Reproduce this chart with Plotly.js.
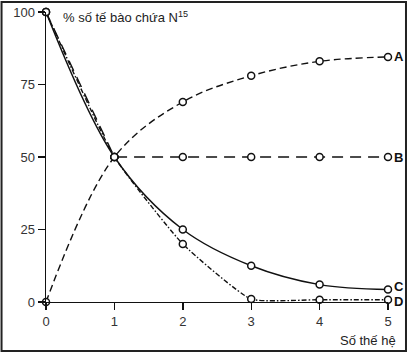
<!DOCTYPE html>
<html><head><meta charset="utf-8">
<script src="https://cdn.plot.ly/plotly-3.0.1.min.js"></script>
<style>html,body{margin:0;padding:0;background:#fff}</style>
</head><body><div id="chart" style="width:414px;height:354px"></div>
<script>
const generations = [0, 1, 2, 3, 4, 5];
const seriesA = [0, 50, 69, 78, 83, 84.5];
const seriesB = [100, 50, 50, 50, 50, 50];
const seriesC = [100, 50, 25, 12.5, 6, 4.3];
const seriesD = [100, 50, 20, 1, 0.8, 0.8];
const seriesNames = ['A', 'B', 'C', 'D'];
const yTicks = [0, 25, 50, 75, 100];
const xTicks = [0, 1, 2, 3, 4, 5];
const yTitle = '% số tế bào chứa N<sup>15</sup>';
const xTitle = 'Số thế hệ';

const ink = '#111';
const marker = {symbol: 'circle', size: 7, color: '#fff', line: {color: ink, width: 1.5}};

function tr(y, dash, shape, smoothing) {
  return {
    x: generations, y: y, type: 'scatter', mode: 'lines+markers',
    line: {color: ink, width: 1.4, dash: dash, shape: shape, smoothing: smoothing},
    marker: marker, cliponaxis: false, hoverinfo: 'skip', showlegend: false
  };
}

const data = [
  tr(seriesA, '7px,4px', 'spline', 1),
  tr(seriesB, '11px,7px', 'linear', 0),
  tr(seriesC, 'solid', 'spline', 1),
  tr(seriesD, '5px,2px,1.5px,2px', 'spline', 0.45)
];

const allSeries = [seriesA, seriesB, seriesC, seriesD];
const labelShift = [0, 0, 3, -2];
const annotations = seriesNames.map((n, i) => ({
  x: generations[generations.length - 1], y: allSeries[i][allSeries[i].length - 1],
  xref: 'x', yref: 'y', text: '<b>' + n + '</b>', showarrow: false,
  xanchor: 'left', yanchor: 'middle', xshift: 4, yshift: labelShift[i],
  font: {family: 'Liberation Sans, Arial, sans-serif', size: 13, color: ink}
}));
annotations.push({
  x: 0.045, y: 1.0, xref: 'paper', yref: 'paper', text: yTitle, showarrow: false,
  xanchor: 'left', yanchor: 'middle', yshift: -5,
  font: {family: 'Liberation Sans, Arial, sans-serif', size: 13, color: '#222'}
});
annotations.push({
  x: 1.03, y: 0, xref: 'paper', yref: 'paper', text: xTitle, showarrow: false,
  xanchor: 'right', yanchor: 'middle', yshift: -38,
  font: {family: 'Liberation Sans, Arial, sans-serif', size: 13, color: '#222'}
});

const layout = {
  width: 414, height: 354,
  margin: {l: 46, r: 26, t: 12, b: 52},
  paper_bgcolor: '#fff', plot_bgcolor: '#fff',
  font: {family: 'Liberation Sans, Arial, sans-serif', size: 13, color: '#333'},
  xaxis: {
    range: [0, 5], tickvals: xTicks, ticktext: xTicks.map(String),
    showgrid: false, zeroline: false, showline: true, linecolor: ink, linewidth: 1.4,
    ticks: 'outside', ticklen: 7, tickwidth: 1.4, tickcolor: ink, fixedrange: true
  },
  yaxis: {
    range: [0, 100], tickvals: yTicks, ticktext: yTicks.map(String),
    showgrid: false, zeroline: false, showline: true, linecolor: ink, linewidth: 1.4,
    ticks: 'outside', ticklen: 7, tickwidth: 1.4, tickcolor: ink, fixedrange: true
  },
  annotations: annotations,
  shapes: [{
    type: 'rect', xref: 'paper', yref: 'paper',
    x0: -0.130, x1: 1.0526, y0: -0.169, y1: 1.0345,
    line: {color: '#222', width: 2}
  }]
};

Plotly.newPlot('chart', data, layout, {staticPlot: true, displayModeBar: false});
</script></body></html>
